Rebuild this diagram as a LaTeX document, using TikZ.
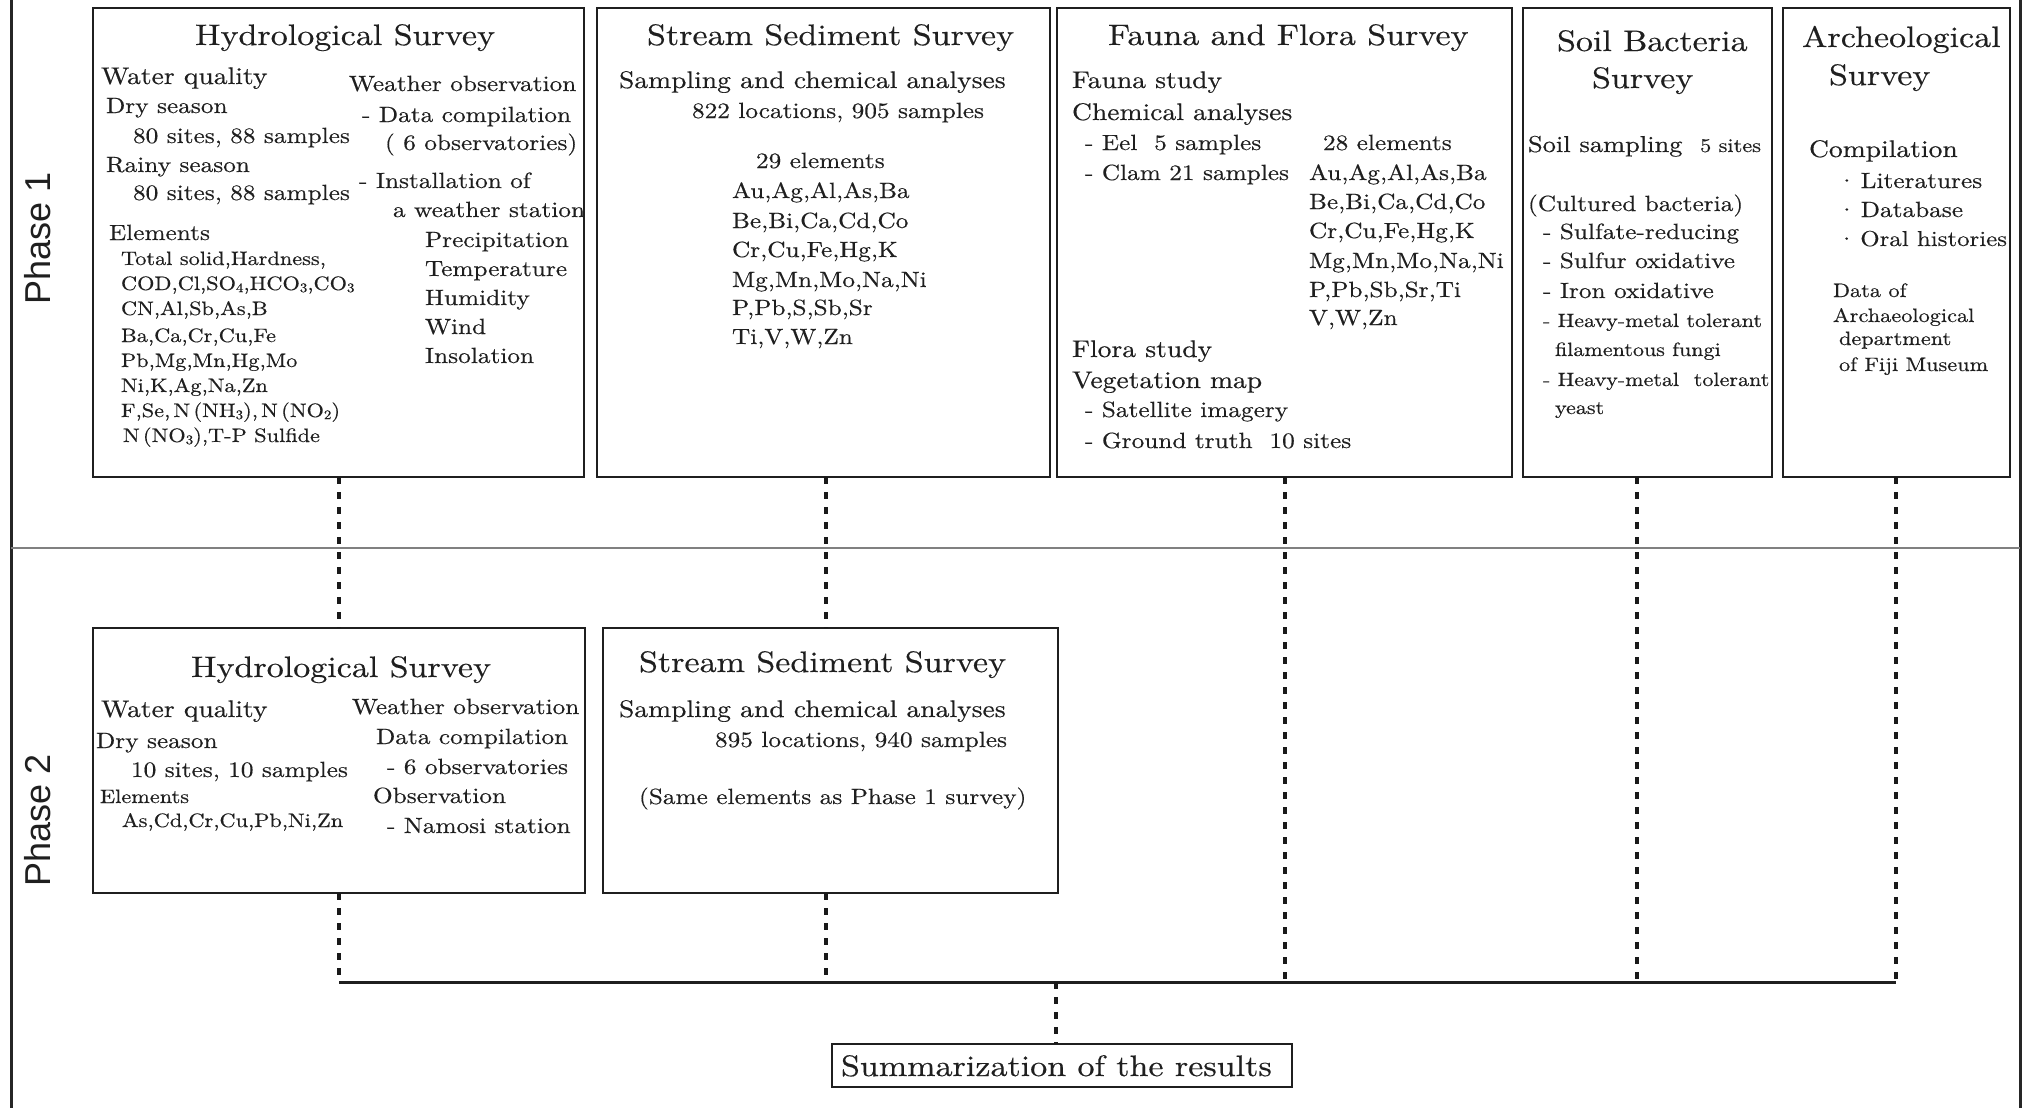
\documentclass[tikz,border=0pt]{standalone}
\usepackage{fontspec}
\setmainfont{lmroman10-regular.otf}[FakeStretch=1.15, FakeBold=0.4]
\newfontfamily\phasefont{Liberation Sans}
\usetikzlibrary{fit}
\newcommand\subn[1]{\raisebox{-0.25ex}{\fontsize{6.5}{7}\selectfont #1}}
\newcommand\smf{\fontsize{9.7}{11}\selectfont}
\newcommand\bul{\textperiodcentered\hspace{2pt}}
\newcount\tncount
\newcommand\T[4][]{\global\advance\tncount by 1\relax\node[txt,#1] (tx\the\tncount) at (#2,#3) {#4};}
\tikzset{
  txt/.style={anchor=base west, inner sep=0pt, outer sep=0pt, text=black!88, font=\fontsize{11}{13}\selectfont},
  sm/.style={font=\smf},
  subhd/.style={font=\fontsize{12}{14}\selectfont},
  ttl/.style={font=\fontsize{14.8}{17}\selectfont},
  hv/.style={font=\fontsize{9.6}{11}\selectfont},
  survbox/.style={draw=black!88, line width=1.4pt, inner sep=0pt, outer sep=0pt},
  dotline/.style={draw=black!90, line width=2.2pt, dash pattern=on 3.5pt off 4pt},
  busline/.style={draw=black!88, line width=1.5pt},
  frameline/.style={draw=black!85, line width=1.5pt},
  sepline/.style={draw=black!50, line width=1pt},
  phase/.style={rotate=90, inner sep=0pt, text=black!88, font=\phasefont\fontsize{18}{20}\selectfont}
}
\begin{document}
\begin{tikzpicture}[x=0.5pt, y=-0.5pt]
\useasboundingbox (0,0) rectangle (2026,1108);
% frame and phase separator
\draw[frameline] (11,0) -- (11,1108);
\draw[frameline] (2020,0) -- (2020,1108);
\draw[sepline] (11,548) -- (2020,548);
\node[phase] (ph1) at (38,238) {Phase 1};
\node[phase] (ph2) at (38,820) {Phase 2};

% Phase 1 boxes
\node[survbox, fit={(93,8) (584,477)}] (h1) {};
\node[survbox, fit={(597,8) (1050,477)}] (s1) {};
\node[survbox, fit={(1057,8) (1512,477)}] (f1) {};
\node[survbox, fit={(1523,8) (1772,477)}] (b1) {};
\node[survbox, fit={(1783,8) (2010,477)}] (a1) {};
% Phase 2 boxes
\node[survbox, fit={(93,628) (585,893)}] (h2) {};
\node[survbox, fit={(603,628) (1058,893)}] (s2) {};
% Summary box
\node[survbox, fit={(832,1044) (1292,1087)}] (sum) {};

% ---------- Hydrological Survey (Phase 1)
\T[ttl]{195}{45}{Hydrological Survey}
\T[subhd]{101}{84}{Water quality}
\T{106}{113}{Dry season}
\T{133}{143}{80 sites, 88 samples}
\T{106}{172}{Rainy season}
\T{133}{200}{80 sites, 88 samples}
\T{109}{240}{Elements}
\T[sm]{121}{265}{Total solid,Hardness,}
\T[sm]{121}{290}{COD,Cl,SO\subn{4},HCO\subn{3},CO\subn{3}}
\T[sm]{121}{315}{CN,Al,Sb,As,B}
\T[sm]{121}{342}{Ba,Ca,Cr,Cu,Fe}
\T[sm]{121}{367}{Pb,Mg,Mn,Hg,Mo}
\T[sm]{121}{392}{Ni,K,Ag,Na,Zn}
\T[sm]{121}{417}{F,Se,\,N\,(NH\subn{3}),\,N\,(NO\subn{2})}
\T[sm]{123}{442}{N\,(NO\subn{3}),T-P Sulfide}
\T{349}{91}{Weather observation}
\T{362}{122}{- Data compilation}
\T{385}{150}{( 6 observatories)}
\T{359}{188}{- Installation of}
\T{393}{217}{a weather station}
\T{425}{247}{Precipitation}
\T{425}{276}{Temperature}
\T{425}{305}{Humidity}
\T{425}{334}{Wind}
\T{425}{363}{Insolation}

% ---------- Stream Sediment Survey (Phase 1)
\T[ttl]{647}{45}{Stream Sediment Survey}
\T[subhd]{619}{88}{Sampling and chemical analyses}
\T{692}{118}{822 locations, 905 samples}
\T{756}{168}{29 elements}
\T{732}{198}{Au,Ag,Al,As,Ba}
\T{732}{228}{Be,Bi,Ca,Cd,Co}
\T{732}{257}{Cr,Cu,Fe,Hg,K}
\T{732}{287}{Mg,Mn,Mo,Na,Ni}
\T{732}{315}{P,Pb,S,Sb,Sr}
\T{732}{344}{Ti,V,W,Zn}

% ---------- Fauna and Flora Survey
\T[ttl]{1108}{45}{Fauna and Flora Survey}
\T[subhd]{1072}{88}{Fauna study}
\T[subhd]{1072}{120}{Chemical analyses}
\T{1085}{150}{- Eel\ \ 5 samples}
\T{1085}{180}{- Clam 21 samples}
\T{1323}{150}{28 elements}
\T{1309}{180}{Au,Ag,Al,As,Ba}
\T{1309}{209}{Be,Bi,Ca,Cd,Co}
\T{1309}{238}{Cr,Cu,Fe,Hg,K}
\T{1309}{268}{Mg,Mn,Mo,Na,Ni}
\T{1309}{297}{P,Pb,Sb,Sr,Ti}
\T{1309}{325}{V,W,Zn}
\T[subhd]{1072}{357}{Flora study}
\T[subhd]{1072}{388}{Vegetation map}
\T{1085}{417}{- Satellite imagery}
\T{1085}{448}{- Ground truth\ \ 10 sites}

% ---------- Soil Bacteria Survey
\T[ttl]{1557}{51}{Soil Bacteria}
\T[ttl]{1592}{88}{Survey}
\T[font=\fontsize{11.5}{13}\selectfont]{1528}{152}{Soil sampling\ \ {\smf 5 sites}}
\T{1528}{211}{(Cultured bacteria)}
\T{1543}{239}{- Sulfate-reducing}
\T{1543}{268}{- Sulfur oxidative}
\T{1543}{298}{- Iron oxidative}
\T[hv]{1543}{327}{- Heavy-metal tolerant}
\T[hv]{1555}{356}{filamentous fungi}
\T[hv]{1543}{386}{- Heavy-metal\ \ tolerant}
\T[hv]{1555}{414}{yeast}

% ---------- Archeological Survey
\T[ttl]{1802}{47}{Archeological}
\T[ttl]{1829}{85}{Survey}
\T[subhd]{1809}{157}{Compilation}
\T{1837}{188}{\bul Literatures}
\T{1837}{217}{\bul Database}
\T[font=\fontsize{10.8}{13}\selectfont]{1837}{246}{\bul Oral histories}
\T[sm]{1833}{297}{Data of}
\T[sm]{1833}{322}{Archaeological}
\T[sm]{1839}{345}{department}
\T[sm]{1839}{371}{of Fiji Museum}

% ---------- Hydrological Survey (Phase 2)
\T[ttl]{191}{677}{Hydrological Survey}
\T[subhd]{101}{717}{Water quality}
\T{96}{748}{Dry season}
\T{131}{777}{10 sites, 10 samples}
\T[sm]{100}{803}{Elements}
\T[sm]{122}{827}{As,Cd,Cr,Cu,Pb,Ni,Zn}
\T{352}{714}{Weather observation}
\T{376}{744}{Data compilation}
\T{387}{774}{- 6 observatories}
\T{373}{803}{Observation}
\T{387}{833}{- Namosi station}

% ---------- Stream Sediment Survey (Phase 2)
\T[ttl]{639}{672}{Stream Sediment Survey}
\T[subhd]{619}{717}{Sampling and chemical analyses}
\T{715}{747}{895 locations, 940 samples}
\T{639}{804}{(Same elements as Phase 1 survey)}

% ---------- Summary
\T[ttl]{841}{1076}{Summarization of the results}

% ---------- connectors
\coordinate (bA) at (339,982);
\coordinate (bB) at (826,982);
\coordinate (bC) at (1285,982);
\coordinate (bD) at (1637,982);
\coordinate (bE) at (1896,982);
\coordinate (bM) at (1056,982);
\draw[dotline] (h1.south -| bA) -- (h2.north -| bA);
\draw[dotline] (h2.south -| bA) -- (bA);
\draw[dotline] (s1.south -| bB) -- (s2.north -| bB);
\draw[dotline] (s2.south -| bB) -- (bB);
\draw[dotline] (f1.south -| bC) -- (bC);
\draw[dotline] (b1.south -| bD) -- (bD);
\draw[dotline] (a1.south -| bE) -- (bE);
\draw[busline] (bA) -- (bE);
\draw[dotline] (bM) -- (sum.north -| bM);
\end{tikzpicture}
\end{document}
